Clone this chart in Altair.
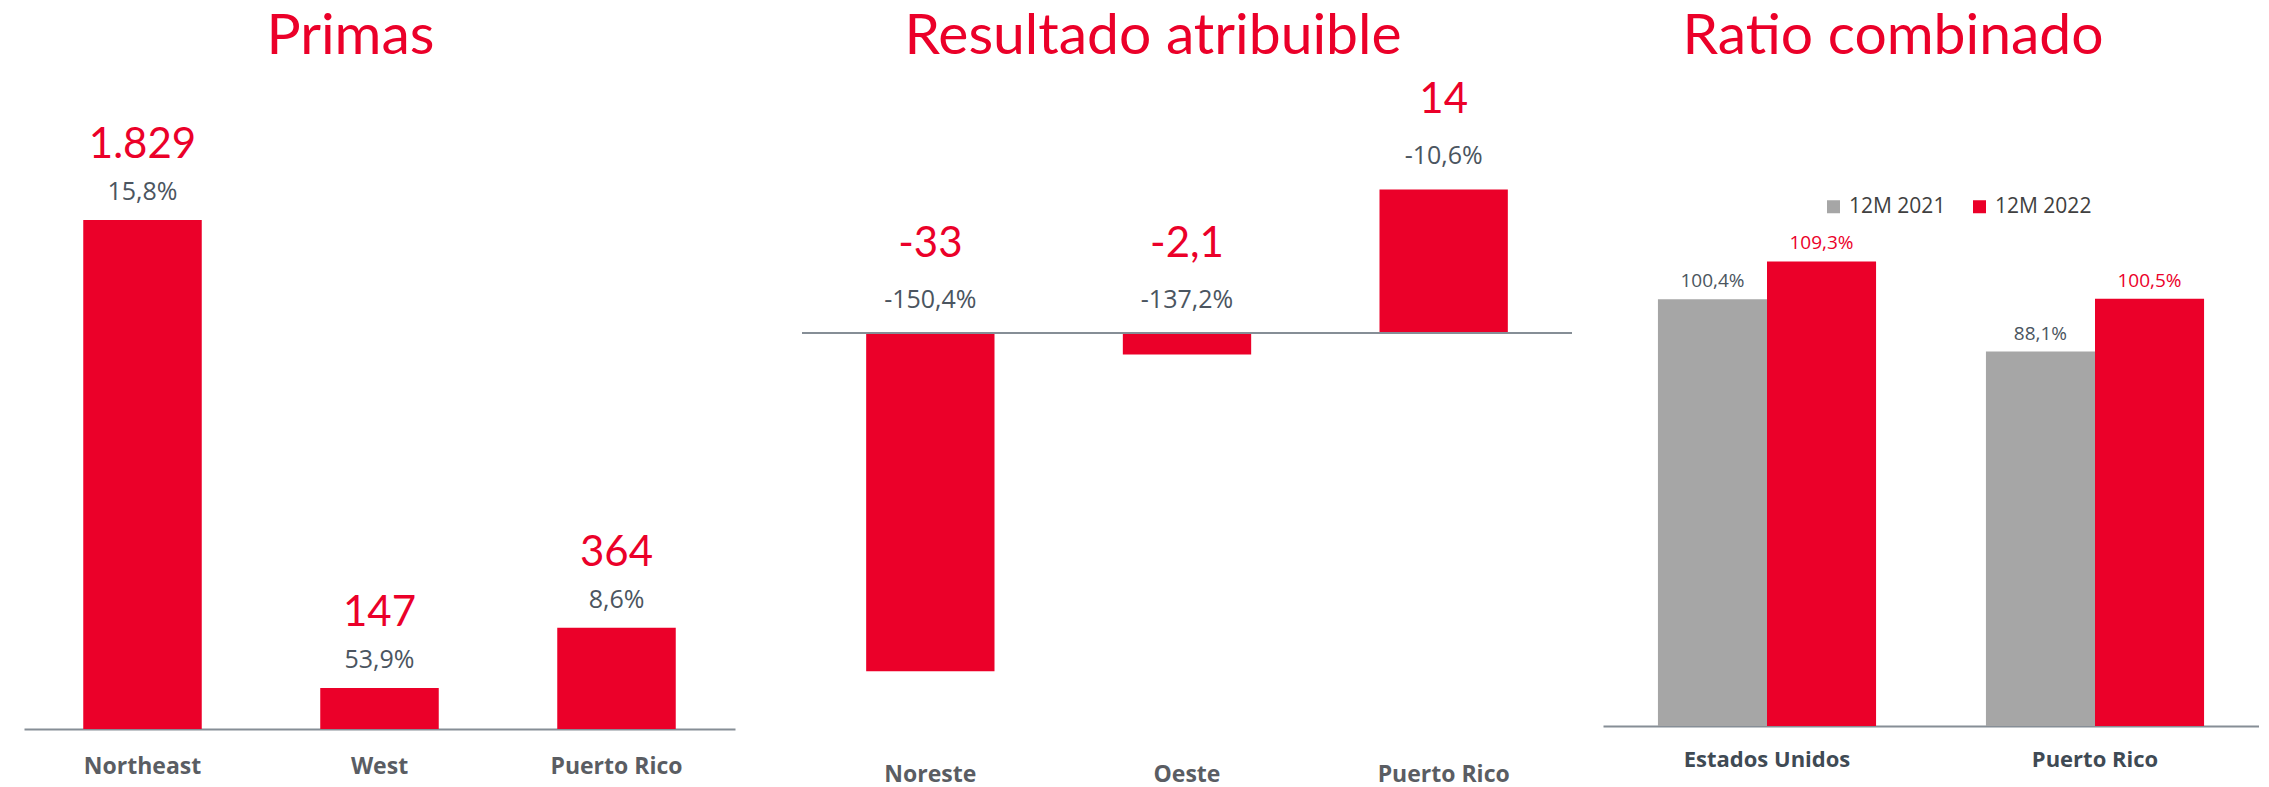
import altair as alt
import pandas as pd

RED = "#EB0029"
GRAY_BAR = "#A6A6A6"
AXIS_LINE = "#868E96"
LABEL_DARK = "#4B5560"

# ---- Panel 1: Primas ----
primas_cat = ["Northeast", "West", "Puerto Rico"]
primas_val = [1829, 147, 364]
primas_lbl = ["1.829", "147", "364"]
primas_pct = ["15,8%", "53,9%", "8,6%"]

# ---- Panel 2: Resultado atribuible ----
res_cat = ["Noreste", "Oeste", "Puerto Rico"]
res_val = [-33, -2.1, 14]
res_lbl = ["-33", "-2,1", "14"]
res_pct = ["-150,4%", "-137,2%", "-10,6%"]

# ---- Panel 3: Ratio combinado ----
ratio_cat = ["Estados Unidos", "Puerto Rico"]
ratio_series = ["12M 2021", "12M 2022"]
ratio_2021 = [100.4, 88.1]
ratio_2022 = [109.3, 100.5]
ratio_lbl_2021 = ["100,4%", "88,1%"]
ratio_lbl_2022 = ["109,3%", "100,5%"]


def title(text, dx):
    return alt.TitleParams(text=text, font="Lato", fontSize=57, fontWeight="normal",
                           color=RED, anchor="middle", frame="group",
                           baseline="alphabetic", offset=-43, dx=dx)


def xaxis(pad, size, color, domain=True):
    return alt.Axis(title=None, labelAngle=0, domain=domain, domainColor=AXIS_LINE,
                    domainWidth=2, ticks=False, tickSize=0, labelPadding=pad,
                    labelFont="Open Sans", labelFontSize=size, labelFontWeight="bold",
                    labelColor=color, grid=False)


# Panel 1
df1 = pd.DataFrame({"cat": primas_cat, "val": primas_val, "lbl": primas_lbl, "pct": primas_pct})
x1 = alt.X("cat:N", sort=primas_cat, scale=alt.Scale(paddingInner=0.5, paddingOuter=0.25),
           axis=xaxis(26, 23, "#5A5D63"))
y1 = alt.Y("val:Q", scale=alt.Scale(domain=[0, 2375], nice=False, zero=True), axis=None)
base1 = alt.Chart(df1).encode(x=x1, y=y1)
p1 = alt.layer(
    base1.mark_bar(color=RED),
    base1.mark_text(font="Lato", fontSize=42, color=RED, baseline="alphabetic", dy=-62).encode(text="lbl:N"),
    base1.mark_text(font="Open Sans", fontSize=25, color=LABEL_DARK, baseline="alphabetic", dy=-20).encode(text="pct:N"),
).properties(width=711, height=661, title=title("Primas", -29))

# spacer (to get a wider gap between panel 1 and panel 2)
spacer = alt.Chart(pd.DataFrame({"s": [0]})).mark_point(opacity=0).encode(
    x=alt.value(0), y=alt.value(0)).properties(width=5, height=661)

# Panel 2
df2 = pd.DataFrame({"cat": res_cat, "val": res_val, "lbl": res_lbl, "pct": res_pct})
sc2 = alt.Scale(domain=[-38.63, 25.85], nice=False, zero=True)
x2 = alt.X("cat:N", sort=res_cat, scale=alt.Scale(paddingInner=0.5, paddingOuter=0.25),
           axis=xaxis(34, 23, "#5A5D63", domain=False))
base2 = alt.Chart(df2).encode(x=x2)
bars2 = base2.mark_bar(color=RED).encode(y=alt.Y("val:Q", scale=sc2, axis=None))
zero2 = alt.Chart(pd.DataFrame({"zero": [0]})).mark_rule(color=AXIS_LINE, strokeWidth=2).encode(
    y=alt.Y("zero:Q", scale=sc2, axis=None))
lab2 = base2.transform_calculate(top="max(datum.val, 0)")
big2 = lab2.mark_text(font="Lato", fontSize=42, color=RED, baseline="alphabetic", dy=-76).encode(
    y=alt.Y("top:Q", scale=sc2, axis=None), text="lbl:N")
pct2 = lab2.mark_text(font="Open Sans", fontSize=25, color=LABEL_DARK, baseline="alphabetic", dy=-25).encode(
    y=alt.Y("top:Q", scale=sc2, axis=None), text="pct:N")
p2 = alt.layer(bars2, zero2, big2, pct2).properties(
    width=770, height=661, title=title("Resultado atribuible", -34))

# Panel 3
rows = []
for i, c in enumerate(ratio_cat):
    rows.append({"cat": c, "series": ratio_series[0], "val": ratio_2021[i], "lbl": ratio_lbl_2021[i]})
    rows.append({"cat": c, "series": ratio_series[1], "val": ratio_2022[i], "lbl": ratio_lbl_2022[i]})
df3 = pd.DataFrame(rows)
x3 = alt.X("cat:N", sort=ratio_cat, scale=alt.Scale(paddingInner=0.335, paddingOuter=0.1675),
           axis=xaxis(23, 22, "#3F4A54"))
xo3 = alt.XOffset("series:N", sort=ratio_series, scale=alt.Scale(paddingInner=0, paddingOuter=0))
y3 = alt.Y("val:Q", scale=alt.Scale(domain=[0, 154.8], nice=False, zero=True), axis=None)
base3 = alt.Chart(df3).encode(x=x3, xOffset=xo3, y=y3)
bars3 = base3.mark_bar().encode(
    color=alt.Color("series:N", sort=ratio_series,
                    scale=alt.Scale(domain=ratio_series, range=[GRAY_BAR, RED]),
                    legend=alt.Legend(title=None, orient="none", legendX=1799, legendY=128,
                                      direction="horizontal", symbolType="square",
                                      symbolSize=169, symbolStrokeWidth=0, symbolOpacity=1,
                                      labelFont="Open Sans", labelFontSize=21,
                                      labelColor="#404040", labelOffset=5,
                                      columnPadding=23, padding=0)))
text3 = base3.mark_text(font="Open Sans", fontSize=19, baseline="alphabetic", dy=-12).encode(
    text="lbl:N",
    color=alt.condition(alt.datum.series == "12M 2022", alt.value(RED), alt.value(LABEL_DARK)))
p3 = alt.layer(bars3, text3).properties(width=656, height=658, title=title("Ratio combinado", -38))

chart = alt.hconcat(p1, spacer, p2, p3, spacing=31, bounds="flush").configure(
    padding={"left": 16, "top": 0, "right": 0, "bottom": 0},
    background="white",
).configure_view(stroke=None)

chart.save("out.html", embed_options={"renderer": "svg", "actions": False})
